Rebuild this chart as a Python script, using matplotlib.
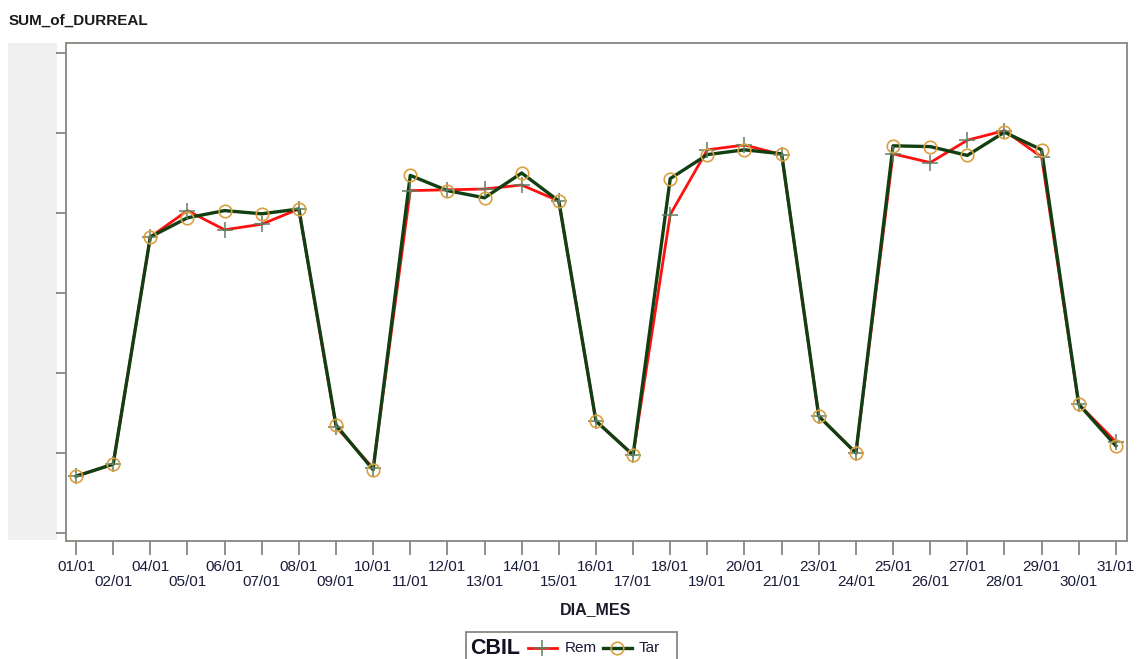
import matplotlib
matplotlib.use("Agg")
import matplotlib.pyplot as plt
from matplotlib.patches import Rectangle
from matplotlib.lines import Line2D

plt.rcParams['font.family'] = ['Liberation Sans', 'DejaVu Sans']

days = ["01/01", "02/01", "04/01", "05/01", "06/01", "07/01", "08/01", "09/01",
        "10/01", "11/01", "12/01", "13/01", "14/01", "15/01", "16/01", "17/01",
        "18/01", "19/01", "20/01", "21/01", "23/01", "24/01", "25/01", "26/01",
        "27/01", "28/01", "29/01", "30/01", "31/01"]

rem = [0.71, 0.86, 3.70, 4.03, 3.79, 3.86, 4.05, 1.33,
       0.81, 4.28, 4.29, 4.30, 4.35, 4.15, 1.40, 0.975,
       3.98, 4.79, 4.85, 4.73, 1.46, 1.00, 4.74, 4.63,
       4.91, 5.03, 4.70, 1.61, 1.14]

tar = [0.71, 0.86, 3.70, 3.94, 4.03, 3.99, 4.05, 1.35,
       0.79, 4.47, 4.28, 4.19, 4.50, 4.15, 1.40, 0.975,
       4.43, 4.73, 4.79, 4.74, 1.46, 1.00, 4.84, 4.83,
       4.72, 5.01, 4.79, 1.61, 1.09]

W, H = 1137, 659
fig = plt.figure(figsize=(W / 100, H / 100), dpi=100)
fig.patch.set_facecolor('white')

def fx(px):
    return px / W

def fy(py):
    return 1 - py / H

ax = fig.add_axes([fx(66), fy(541), fx(1127) - fx(66), fy(43) - fy(541)])

x = list(range(len(days)))
red = '#FF1010'
green = '#123F12'
orange = '#D9A040'
plus_c = '#5F7F62'

ax.plot(x, rem, color=red, lw=2.0, zorder=3)
ax.plot(x, tar, color=green, lw=2.4, zorder=4)
ax.plot(x, rem, ls='none', marker='+', ms=11, mew=1.1, color=plus_c, zorder=5)
ax.plot(x, tar, ls='none', marker='o', ms=9, mew=1.2, mfc='none', mec=orange, zorder=6)

ax.set_xlim(-0.27, 28.3)
ax.set_ylim(-0.1, 6.125)
ax.set_yticks([0, 1, 2, 3, 4, 5, 6])
ax.set_yticklabels([])

labels = [d if i % 2 == 0 else "\n" + d for i, d in enumerate(days)]
ax.set_xticks(x)
ax.set_xticklabels(labels, fontsize=11, color='#1A1A3A', linespacing=1.05)

spine_c = '#8A8680'
for s in ax.spines.values():
    s.set_color(spine_c)
    s.set_linewidth(1.3)
ax.tick_params(axis='x', direction='out', length=10, width=1.3, color=spine_c, pad=4)
ax.tick_params(axis='y', direction='out', length=7, width=1.3, color=spine_c)

# grey area where y labels would be
fig.add_artist(Rectangle((fx(8), fy(540)), fx(57) - fx(8), fy(43) - fy(540),
                         transform=fig.transFigure, facecolor='#F0F0F0',
                         edgecolor='none', zorder=0))

fig.text(fx(9), fy(21), "SUM_of_DURREAL", fontsize=11, fontweight='bold',
         color='#1A1A1A', va='center', ha='left')
fig.text(fx(596), fy(610), "DIA_MES", fontsize=11.5, fontweight='bold',
         color='#1A1A2A', va='center', ha='center')

# manual legend
fig.add_artist(Rectangle((fx(466), fy(672)), fx(677) - fx(466), fy(632) - fy(672),
                         transform=fig.transFigure, facecolor='white',
                         edgecolor=spine_c, lw=1.3))
ly = fy(648)
fig.text(fx(470), ly, "CBIL", fontsize=15.5, fontweight='bold', color='#111122',
         va='center', ha='left')
fig.add_artist(Line2D([fx(528), fx(557)], [ly, ly], transform=fig.transFigure,
                      color=red, lw=2.0))
fig.add_artist(Line2D([fx(542)], [ly], transform=fig.transFigure, ls='none',
                      marker='+', ms=11, mew=1.1, color=plus_c))
fig.text(fx(565), ly, "Rem", fontsize=11, color='#1A1A3A', va='center', ha='left')
fig.add_artist(Line2D([fx(603), fx(632)], [ly, ly], transform=fig.transFigure,
                      color=green, lw=2.4))
fig.add_artist(Line2D([fx(617)], [ly], transform=fig.transFigure, ls='none',
                      marker='o', ms=9, mew=1.2, mfc='none', mec=orange))
fig.text(fx(639), ly, "Tar", fontsize=11, color='#1A1A3A', va='center', ha='left')

fig.savefig("out.png", dpi=100)
